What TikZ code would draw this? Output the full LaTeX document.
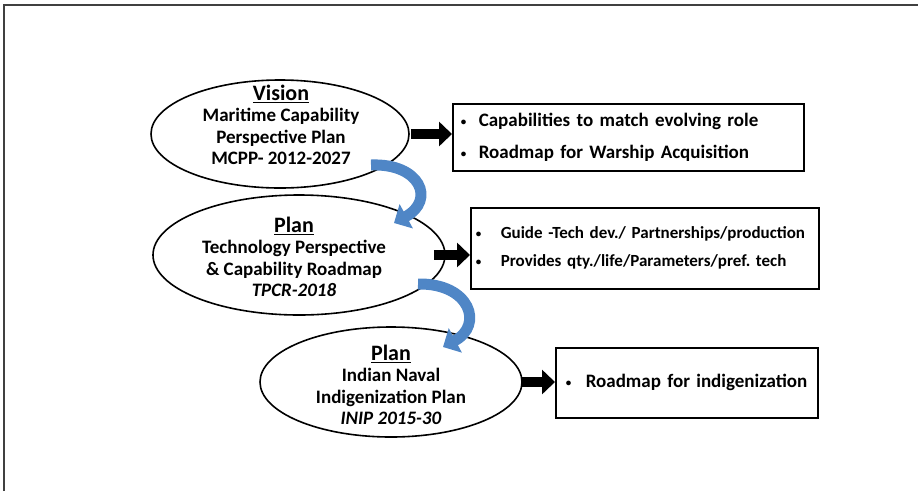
\documentclass[tikz,border=0pt]{standalone}
\usepackage{fontspec}
\setmainfont{Carlito}
\usetikzlibrary{arrows.meta,shapes.geometric}
\definecolor{officeblue}{RGB}{79,134,198}
\frenchspacing
\newcommand{\bulletline}[2][18pt]{\makebox[#1][l]{\raisebox{1pt}{\fontsize{11}{11}\selectfont\textbullet}}#2}
\newcommand{\plantitle}[1]{{\fontsize{22}{24}\selectfont\underline{#1}}}

\begin{document}
\begin{tikzpicture}[x=1pt,y=-1pt,
  plan/.style={draw,ellipse,line width=1.6pt,inner sep=0pt},
  plantext/.style={align=center,inner sep=0pt,font=\bfseries\fontsize{19}{21.5}\selectfont},
  listbox/.style={draw,line width=1.6pt,anchor=north west,align=left,font=\bfseries\fontsize{19}{32}\selectfont},
  blockarrow/.style={line width=10pt,-{Triangle[length=13pt,width=24pt]}},
  bluearrow/.style={officeblue,line width=11pt,-{Triangle[length=14pt,width=27pt]}}]
\useasboundingbox (0,0) rectangle (918,491);
\draw[line width=1.2pt,black!75] (4,491) -- (4,5) -- (918,5);

% plans
\node[plan,minimum width=258pt,minimum height=108pt] (vision) at (280,134) {};
\node[plantext] (visiontext) at (281,125) {\plantitle{Vision}\\Maritime Capability\\Perspective Plan\\MCPP- 2012-2027};
\node[plan,minimum width=292pt,minimum height=120pt] (tpcr) at (299,255) {};
\node[plantext] (tpcrtext) at (294,257) {\plantitle{Plan}\\Technology Perspective\\\& Capability Roadmap\\\textit{TPCR-2018}};
\node[plan,minimum width=262pt,minimum height=110pt] (inip) at (391,382) {};
\node[plantext] (iniptext) at (391,385) {\plantitle{Plan}\\Indian Naval\\Indigenization Plan\\\textit{INIP 2015-30}};

% outcomes
\node[listbox,minimum width=351pt,minimum height=67pt,inner xsep=8pt,text width=335pt] (visionbox) at (452,103)
  {\bulletline{Capabilities to match evolving role}\\\bulletline{Roadmap for Warship Acquisition}};
\node[listbox,minimum width=348pt,minimum height=81pt,inner xsep=5pt,text width=338pt,font=\bfseries\fontsize{17}{28}\selectfont] (tpcrbox) at (470,207)
  {\bulletline[25pt]{Guide -Tech dev./ Partnerships/production}\\\bulletline[25pt]{Provides qty./life/Parameters/pref. tech}};
\node[listbox,minimum width=262pt,minimum height=70pt,inner xsep=10pt,text width=242pt] (inipbox) at (555,347)
  {\bulletline[20pt]{Roadmap for indigenization}};

% black arrows
\coordinate (visionout) at ([xshift=1pt]vision.east);
\coordinate (tpcrout) at ([xshift=-12pt]tpcr.east);
\coordinate (inipout) at ([xshift=-2pt]inip.east);
\draw[blockarrow] (visionout) -- (visionout -| visionbox.west);
\draw[blockarrow] (tpcrout) -- (tpcrout -| tpcrbox.west);
\draw[blockarrow] (inipout) -- (inipout -| inipbox.west);

% blue curved arrows
\coordinate (bend1) at (371,165);
\coordinate (land1) at (394,223);
\coordinate (bend2) at (418,284);
\coordinate (land2) at (443,347);
\draw[bluearrow] (bend1) .. controls (420,163) and (436,200) .. (land1);
\draw[bluearrow] (bend2) .. controls (470,283) and (484,325) .. (land2);
\end{tikzpicture}
\end{document}
